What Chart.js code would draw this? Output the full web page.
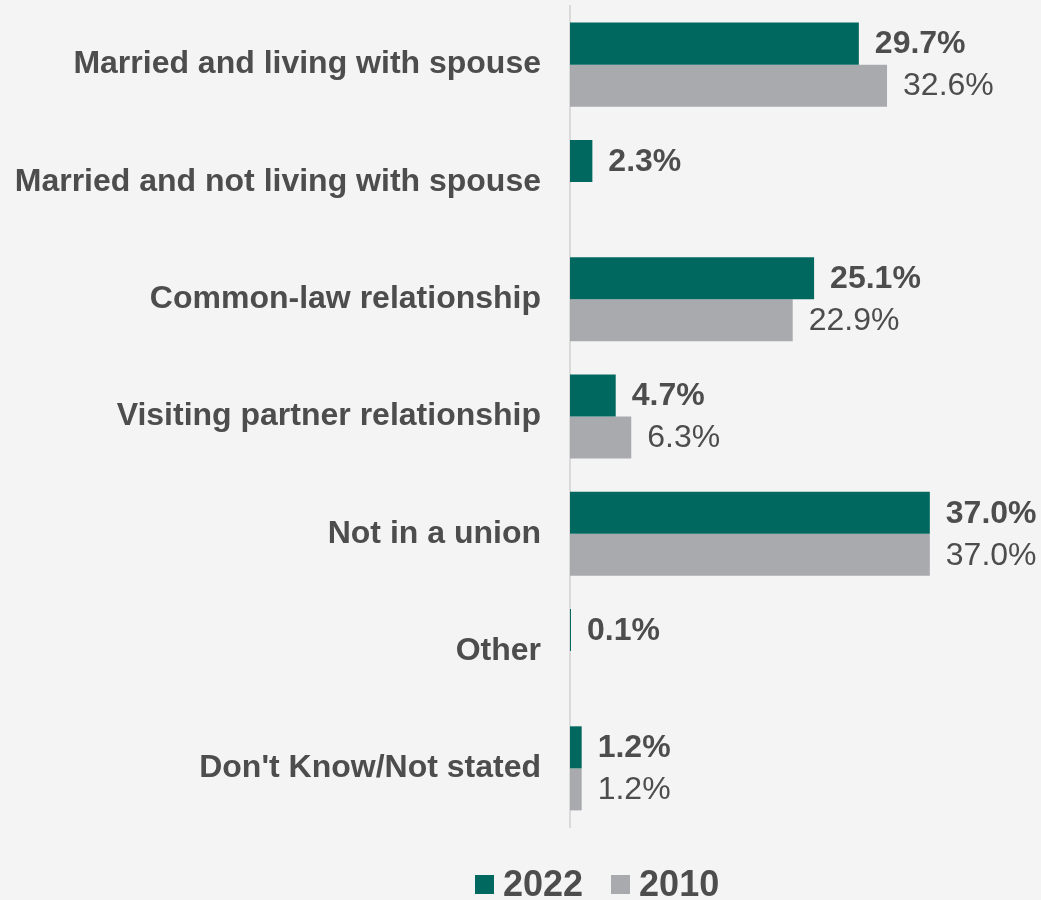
<!DOCTYPE html>
<html>
<head>
<meta charset="utf-8">
<script src="https://cdn.jsdelivr.net/npm/chart.js@4.4.0/dist/chart.umd.min.js"></script>
<style>
  html, body { margin: 0; padding: 0; background: #f4f4f4; }
  #wrap { position: relative; width: 1041px; height: 900px; }
  #legend {
    position: absolute; left: 475px; top: 864px; height: 40px;
    display: flex; align-items: center;
    font-family: 'Liberation Sans', Arial, sans-serif; font-weight: bold;
    font-size: 36px; color: #4d4d4d;
  }
  #legend .box { width: 19px; height: 19px; margin-right: 9px; }
  #legend .item { display: flex; align-items: center; margin-right: 28px; }
</style>
</head>
<body>
<div id="wrap">
  <canvas id="chart" width="1041" height="900"></canvas>
  <div id="legend"></div>
</div>
<script>
const categories = [
  'Married and living with spouse',
  'Married and not living with spouse',
  'Common-law relationship',
  'Visiting partner relationship',
  'Not in a union',
  'Other',
  "Don't Know/Not stated"
];
const values2022 = [29.7, 2.3, 25.1, 4.7, 37.0, 0.1, 1.2];
const values2010 = [32.6, null, 22.9, 6.3, 37.0, null, 1.2];
const seriesNames = ['2022', '2010'];

const colors = {
  teal: '#00685e',
  grey: '#a8aaae',
  text: '#4d4d4d',
  axis: '#dadada'
};
const fontFamily = "'Liberation Sans', Arial, sans-serif";

// value labels drawn next to each bar
const valueLabels = {
  id: 'valueLabels',
  afterDatasetsDraw(chart) {
    const ctx = chart.ctx;
    ctx.save();
    ctx.fillStyle = colors.text;
    ctx.textAlign = 'left';
    ctx.textBaseline = 'middle';
    chart.data.datasets.forEach((ds, i) => {
      const meta = chart.getDatasetMeta(i);
      ctx.font = (i === 0 ? 'bold ' : '') + '32px ' + fontFamily;
      meta.data.forEach((bar, j) => {
        const v = ds.data[j];
        if (v === null || v === undefined) return;
        ctx.fillText(v.toFixed(1) + '%', bar.x + 16, bar.y + 1);
      });
    });
    ctx.restore();
  }
};

new Chart(document.getElementById('chart'), {
  type: 'bar',
  data: {
    labels: categories,
    datasets: [
      { label: seriesNames[0], data: values2022, backgroundColor: colors.teal },
      { label: seriesNames[1], data: values2010, backgroundColor: colors.grey }
    ]
  },
  options: {
    indexAxis: 'y',
    responsive: false,
    animation: false,
    datasets: {
      bar: { barPercentage: 1, categoryPercentage: 0.717 }
    },
    layout: { padding: { top: 6, right: 82, bottom: 73, left: 0 } },
    plugins: {
      legend: { display: false },
      tooltip: { enabled: false }
    },
    scales: {
      x: { display: false, min: 0, max: 40 },
      y: {
        grid: { display: false, drawTicks: false },
        border: { display: true, color: colors.axis, width: 2 },
        ticks: {
          color: colors.text,
          padding: 29,
          font: { family: fontFamily, size: 32, weight: 'bold' }
        },
        afterFit(scale) {
          scale.width = 570;
          scale.paddingTop = 0;
          scale.paddingBottom = 0;
        }
      }
    }
  },
  plugins: [valueLabels]
});

// legend
const legendEl = document.getElementById('legend');
[colors.teal, colors.grey].forEach((c, i) => {
  const item = document.createElement('div');
  item.className = 'item';
  const box = document.createElement('span');
  box.className = 'box';
  box.style.background = c;
  const txt = document.createElement('span');
  txt.textContent = seriesNames[i];
  item.appendChild(box);
  item.appendChild(txt);
  legendEl.appendChild(item);
});
</script>
</body>
</html>
